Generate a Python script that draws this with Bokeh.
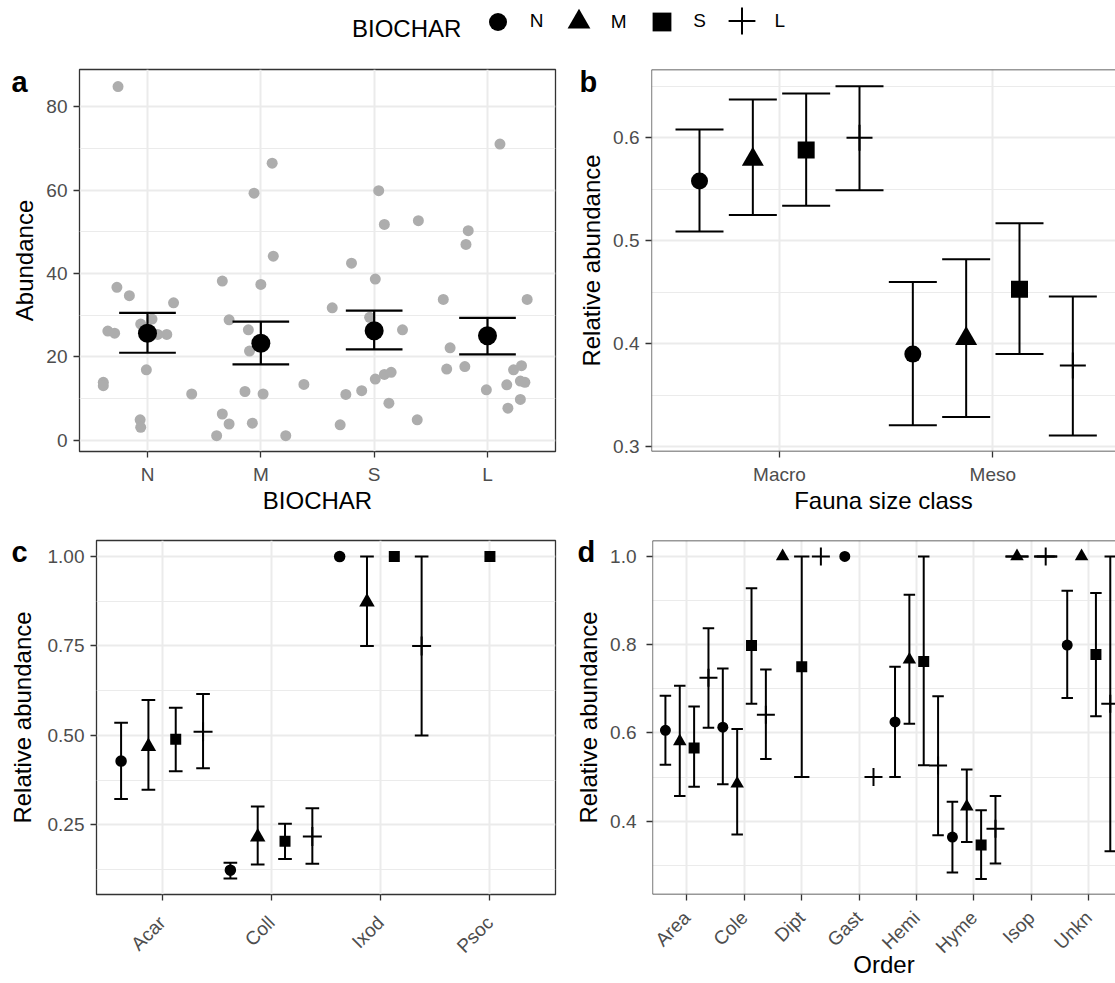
import math
from bokeh.plotting import figure
from bokeh.models import Range1d, FixedTicker, Label, Legend, LegendItem, Span, Title
from bokeh.layouts import column, row
from bokeh.embed import file_html
from bokeh.resources import INLINE

FONT = "Liberation Sans"
INK = "black"
TICK_TXT = "#4D4D4D"
BORDER = "#333333"
GRID = "#EBEBEB"
GREY_PT = "#ADADAD"
NAN = float("nan")

BIOCHAR = ["N", "M", "S", "L"]
MARKERS = ["circle", "triangle", "square", "cross"]

# ---------------- panel a : raw abundance (jitter offset from category, value)
a_N_jitter = [-0.26, -0.27, -0.16, 0.23, -0.35, -0.29, -0.06, 0.04, 0.09, 0.17, -0.01, -0.39, -0.39, 0.39, -0.065, -0.06]
a_N_abund = [84.9, 36.7, 34.7, 33.0, 26.2, 25.7, 27.9, 29.1, 25.4, 25.4, 16.9, 13.9, 13.1, 11.1, 4.9, 3.1]
a_M_jitter = [0.10, -0.06, 0.11, -0.34, 0.0, -0.28, -0.11, -0.10, 0.38, -0.14, 0.02, -0.34, -0.28, -0.075, -0.39, 0.22]
a_M_abund = [66.5, 59.3, 44.2, 38.2, 37.4, 28.9, 26.5, 21.4, 13.4, 11.7, 11.1, 6.3, 3.9, 4.1, 1.1, 1.1]
a_S_jitter = [0.04, 0.09, 0.39, -0.2, 0.01, -0.37, -0.04, 0.25, 0.01, 0.09, 0.15, -0.11, -0.25, 0.13, 0.38, -0.3]
a_S_abund = [59.9, 51.8, 52.7, 42.5, 38.7, 31.8, 29.5, 26.5, 14.7, 15.8, 16.3, 11.9, 11.0, 8.9, 4.9, 3.7]
a_L_jitter = [0.11, -0.17, -0.19, -0.39, 0.35, -0.33, -0.36, -0.2, 0.23, 0.30, 0.29, 0.33, 0.17, -0.01, 0.29, 0.18]
a_L_abund = [71.1, 50.3, 47.0, 33.8, 33.8, 22.2, 17.1, 17.7, 16.9, 17.9, 14.2, 13.9, 13.3, 12.1, 9.8, 7.7]
a_mean = [25.7, 23.3, 26.3, 25.1]
a_lower = [21.0, 18.2, 21.8, 20.6]
a_upper = [30.6, 28.5, 31.1, 29.4]
a_yticks = [0, 20, 40, 60, 80]
a_ytick_labels = ["0", "20", "40", "60", "80"]
a_yminor = [10, 30, 50, 70]

# ---------------- panel b : fauna size class
b_classes = ["Macro", "Meso"]
b_class = ["Macro", "Macro", "Macro", "Macro", "Meso", "Meso", "Meso", "Meso"]
b_group = ["N", "M", "S", "L", "N", "M", "S", "L"]
b_mean = [0.558, 0.579, 0.588, 0.600, 0.390, 0.405, 0.453, 0.379]
b_lower = [0.509, 0.525, 0.534, 0.549, 0.321, 0.329, 0.390, 0.311]
b_upper = [0.608, 0.637, 0.643, 0.650, 0.460, 0.482, 0.517, 0.446]
b_yticks = [0.3, 0.4, 0.5, 0.6]
b_ytick_labels = ["0.3", "0.4", "0.5", "0.6"]
b_yminor = [0.35, 0.45, 0.55, 0.65]

# ---------------- panel c : mesofauna orders
c_orders = ["Acar", "Coll", "Ixod", "Psoc"]
c_order = ["Acar", "Acar", "Acar", "Acar", "Coll", "Coll", "Coll", "Coll",
           "Ixod", "Ixod", "Ixod", "Ixod", "Psoc"]
c_group = ["N", "M", "S", "L", "N", "M", "S", "L", "N", "M", "S", "L", "S"]
c_mean = [0.428, 0.469, 0.489, 0.510, 0.123, 0.216, 0.204, 0.217, 1.0, 0.873, 1.0, 0.750, 1.0]
c_lower = [0.322, 0.348, 0.400, 0.408, 0.100, 0.139, 0.154, 0.141, None, 0.750, None, 0.500, None]
c_upper = [0.535, 0.599, 0.577, 0.616, 0.144, 0.301, 0.253, 0.296, None, 1.000, None, 1.000, None]
c_yticks = [0.25, 0.5, 0.75, 1]
c_ytick_labels = ["0.25", "0.50", "0.75", "1.00"]
c_yminor = [0.125, 0.375, 0.625, 0.875]

# ---------------- panel d : macrofauna orders
d_orders = ["Area", "Cole", "Dipt", "Gast", "Hemi", "Hyme", "Isop", "Unkn"]
d_order = ["Area", "Area", "Area", "Area", "Cole", "Cole", "Cole", "Cole",
           "Dipt", "Dipt", "Dipt", "Gast", "Gast",
           "Hemi", "Hemi", "Hemi", "Hemi", "Hyme", "Hyme", "Hyme", "Hyme",
           "Isop", "Isop", "Unkn", "Unkn", "Unkn", "Unkn"]
d_group = ["N", "M", "S", "L", "N", "M", "S", "L",
           "M", "S", "L", "N", "L",
           "N", "M", "S", "L", "N", "M", "S", "L",
           "M", "L", "N", "M", "S", "L"]
d_mean = [0.606, 0.581, 0.566, 0.725, 0.613, 0.485, 0.798, 0.641,
          1.0, 0.750, 1.0, 1.0, 0.5,
          0.625, 0.766, 0.762, 0.526, 0.364, 0.433, 0.346, 0.383,
          1.0, 1.0, 0.799, 1.0, 0.778, 0.666]
d_lower = [0.528, 0.457, 0.478, 0.612, 0.484, 0.370, 0.666, 0.541,
           None, 0.500, None, None, None,
           0.500, 0.621, 0.527, 0.368, 0.284, 0.353, 0.269, 0.304,
           1.0, 1.0, 0.679, None, 0.638, 0.332]
d_upper = [0.684, 0.707, 0.660, 0.837, 0.746, 0.609, 0.928, 0.744,
           None, 1.000, None, None, None,
           0.750, 0.913, 1.000, 0.683, 0.444, 0.517, 0.425, 0.457,
           1.0, 1.0, 0.922, None, 0.917, 1.000]
d_yticks = [0.4, 0.6, 0.8, 1]
d_ytick_labels = ["0.4", "0.6", "0.8", "1.0"]
d_yminor = [0.3, 0.5, 0.7, 0.9]


def styled_fig(width, height, borders, xr, yr, xticks, xlabels, yticks, ylabels, yminor,
               ytitle, xtitle=None, rotate=False, ylab_standoff=6, ytitle_standoff=5,
               xlab_standoff=6, xtitle_standoff=-1, full_box=True):
    left, right, top, bottom = borders
    p = figure(width=width, height=height, x_range=Range1d(*xr), y_range=Range1d(*yr),
               toolbar_location=None, output_backend="svg",
               min_border_left=left, min_border_right=right,
               min_border_top=top, min_border_bottom=bottom)
    p.xaxis.ticker = FixedTicker(ticks=list(xticks))
    p.xaxis.major_label_overrides = {t: l for t, l in zip(xticks, xlabels)}
    p.yaxis.ticker = FixedTicker(ticks=list(yticks), minor_ticks=list(yminor))
    p.yaxis.major_label_overrides = {t: l for t, l in zip(yticks, ylabels)}
    for ax in list(p.xaxis) + list(p.yaxis):
        ax.axis_line_color = None
        ax.major_tick_line_color = BORDER
        ax.major_tick_line_width = 1.3
        ax.major_tick_in = 0
        ax.major_tick_out = 6
        ax.minor_tick_line_color = None
        ax.major_label_text_font = FONT
        ax.major_label_text_font_size = "19px"
        ax.major_label_text_color = TICK_TXT
        ax.axis_label_text_font = FONT
        ax.axis_label_text_font_size = "24px"
        ax.axis_label_text_font_style = "normal"
        ax.axis_label_text_color = INK
    p.yaxis.major_label_standoff = ylab_standoff
    p.xaxis.major_label_standoff = xlab_standoff
    p.yaxis.axis_label = ytitle
    p.yaxis.axis_label_standoff = ytitle_standoff
    if xtitle:
        p.xaxis.axis_label = xtitle
        p.xaxis.axis_label_standoff = xtitle_standoff
    if rotate:
        p.xaxis.major_label_orientation = math.pi / 4
    p.xgrid.grid_line_color = GRID
    p.xgrid.grid_line_width = 2
    p.ygrid.grid_line_color = GRID
    p.ygrid.grid_line_width = 2
    p.ygrid.minor_grid_line_color = GRID
    p.ygrid.minor_grid_line_width = 1
    if full_box:
        p.outline_line_color = BORDER
        p.outline_line_width = 1.3
    else:
        p.outline_line_color = None
        p.add_layout(Span(location=xr[0], dimension="height", line_color=BORDER, line_width=1.3))
        p.add_layout(Span(location=yr[0], dimension="width", line_color=BORDER, line_width=1.3))
        p.add_layout(Span(location=yr[1], dimension="width", line_color=BORDER, line_width=1.3))
    return p


def tag(p, text, offset, standoff):
    p.add_layout(Title(text=text, align="left", offset=offset, standoff=standoff,
                       vertical_align="bottom", text_font=FONT, text_font_size="29px",
                       text_font_style="bold", text_color=INK), "above")


def draw_dodged(p, cats_all, row_cat, row_grp, mean, lower, upper, sizes, cap_total, lw=2.0):
    xs, ns = [], []
    for c, g in zip(row_cat, row_grp):
        present = [gg for gg in BIOCHAR if any(rc == c and rg == gg for rc, rg in zip(row_cat, row_grp))]
        n = len(present)
        idx = present.index(g)
        xs.append(cats_all.index(c) + 1 + 1.0 * ((idx + 0.5) / n - 0.5))
        ns.append(n)
    keep = [i for i in range(len(xs)) if lower[i] is not None]
    ex = [xs[i] for i in keep]
    elo = [lower[i] for i in keep]
    ehi = [upper[i] for i in keep]
    half = [cap_total / ns[i] / 2 for i in keep]
    p.segment(x0=ex, y0=elo, x1=ex, y1=ehi, line_color=INK, line_width=lw)
    p.segment(x0=[x - h for x, h in zip(ex, half)], y0=ehi, x1=[x + h for x, h in zip(ex, half)], y1=ehi,
              line_color=INK, line_width=lw)
    p.segment(x0=[x - h for x, h in zip(ex, half)], y0=elo, x1=[x + h for x, h in zip(ex, half)], y1=elo,
              line_color=INK, line_width=lw)
    for g, m in zip(BIOCHAR, MARKERS):
        sel = [i for i in range(len(xs)) if row_grp[i] == g]
        if not sel:
            continue
        gx = [xs[i] for i in sel]
        gy = [mean[i] for i in sel]
        if m == "cross":
            p.scatter(gx, gy, marker=m, size=sizes[g], line_color=INK, line_width=lw)
        else:
            p.scatter(gx, gy, marker=m, size=sizes[g], fill_color=INK, line_color=None)


# ---------------- legend strip
leg = figure(width=1115, height=46, x_range=Range1d(0, 1), y_range=Range1d(0, 1),
             toolbar_location=None, output_backend="svg", x_axis_type=None, y_axis_type=None,
             min_border_left=0, min_border_right=0, min_border_top=0, min_border_bottom=0)
leg.outline_line_color = None
leg.add_layout(Label(x=351.5, y=17.7, x_units="screen", y_units="screen", text="BIOCHAR",
                     text_font=FONT, text_font_size="24px", text_color=INK,
                     text_baseline="alphabetic", text_align="left"))
leg_specs = [  # (glyph box, location, standoff)
    (45, (474.8, 2.5), 10),
    (57, (549.8, -4.0), 4),
    (47, (638.2, 1.5), 8),
    (67, (707.5, -8.2), -6),
]
for g, m, (box, loc, so) in zip(BIOCHAR, MARKERS, leg_specs):
    if m == "cross":
        r = leg.scatter(x=[NAN], y=[NAN], marker=m, size=10, line_color=INK, line_width=2)
    else:
        r = leg.scatter(x=[NAN], y=[NAN], marker=m, size=10, fill_color=INK, line_color=None)
    lg = Legend(items=[LegendItem(label=g, renderers=[r])], location=loc, orientation="horizontal",
                glyph_width=box, glyph_height=box, label_standoff=so, padding=0, margin=0, spacing=0,
                border_line_color=None, background_fill_alpha=0,
                label_text_font=FONT, label_text_font_size="19px", label_text_color=INK)
    leg.add_layout(lg)

# ---------------- panel a
pa = styled_fig(568, 474, (79, 13, 23, 69), (0.4, 4.6), (-2.7, 89.0),
                [1, 2, 3, 4], BIOCHAR, a_yticks, a_ytick_labels, a_yminor,
                "Abundance", xtitle="BIOCHAR")
a_jit = {"N": a_N_jitter, "M": a_M_jitter, "S": a_S_jitter, "L": a_L_jitter}
a_val = {"N": a_N_abund, "M": a_M_abund, "S": a_S_abund, "L": a_L_abund}
for k, g in enumerate(BIOCHAR):
    pa.scatter([k + 1 + d for d in a_jit[g]], a_val[g], size=11, fill_color=GREY_PT, line_color=None)
a_x = [k + 1 for k in range(len(BIOCHAR))]
pa.segment(x0=a_x, y0=a_lower, x1=a_x, y1=a_upper, line_color=INK, line_width=2.2)
pa.segment(x0=[x - 0.25 for x in a_x], y0=a_upper, x1=[x + 0.25 for x in a_x], y1=a_upper,
           line_color=INK, line_width=2.2)
pa.segment(x0=[x - 0.25 for x in a_x], y0=a_lower, x1=[x + 0.25 for x in a_x], y1=a_lower,
           line_color=INK, line_width=2.2)
pa.scatter(a_x, a_mean, size=19, fill_color=INK, line_color=None)
tag(pa, "a", -68, -56)

# ---------------- panel b
pb = styled_fig(547, 474, (83, 0, 23, 69), (0.4, 2.575), (0.2955, 0.6662),
                [1, 2], b_classes, b_yticks, b_ytick_labels, b_yminor,
                "Relative abundance", xtitle="Fauna size class", full_box=False)
draw_dodged(pb, b_classes, b_class, b_group, b_mean, b_lower, b_upper,
            {"N": 17, "M": 22, "S": 17, "L": 26}, 0.9)
tag(pb, "b", -72, -57)

# ---------------- panel c
pc = styled_fig(568, 462, (96, 13, 20, 88), (0.4, 4.6), (0.055, 1.045),
                [1, 2, 3, 4], c_orders, c_yticks, c_ytick_labels, c_yminor,
                "Relative abundance", rotate=True, ytitle_standoff=9, xlab_standoff=19)
draw_dodged(pc, c_orders, c_order, c_group, c_mean, c_lower, c_upper,
            {"N": 11.5, "M": 15.5, "S": 11, "L": 19}, 0.5)
tag(pc, "c", -85, -55)

# ---------------- panel d
pd_ = styled_fig(547, 462, (84, 0, 20, 88), (0.4, 8.466), (0.234, 1.036),
                 list(range(1, len(d_orders) + 1)), d_orders, d_yticks, d_ytick_labels, d_yminor,
                 "Relative abundance", xtitle="Order", rotate=True, ylab_standoff=10,
                 xlab_standoff=14, xtitle_standoff=-16, full_box=False)
draw_dodged(pd_, d_orders, d_order, d_group, d_mean, d_lower, d_upper,
            {"N": 11, "M": 13.5, "S": 11, "L": 18}, 0.8)
tag(pd_, "d", -75, -55)

layout = column(leg, row(pa, pb), row(pc, pd_))
open("out.html", "w").write(file_html(layout, INLINE, "Biochar fauna"))
